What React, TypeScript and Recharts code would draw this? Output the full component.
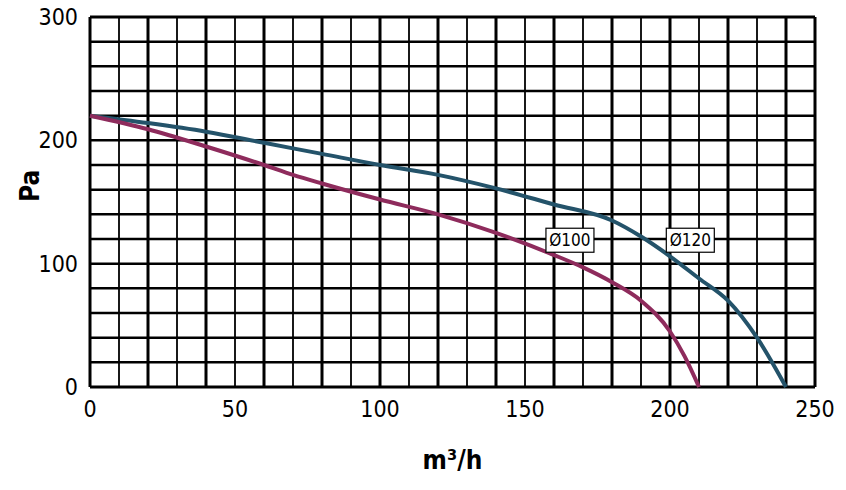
import React from 'react';
import { LineChart, Line, XAxis, YAxis, ReferenceLine, ReferenceDot } from 'recharts';

const d120 = [
  { x: 0, y: 220 }, { x: 20, y: 214 }, { x: 40, y: 207 }, { x: 60, y: 198 },
  { x: 80, y: 189 }, { x: 100, y: 180 }, { x: 120, y: 172 }, { x: 140, y: 161 },
  { x: 160, y: 148 }, { x: 180, y: 135 }, { x: 190, y: 122 }, { x: 200, y: 106 },
  { x: 210, y: 88 }, { x: 220, y: 70 }, { x: 230, y: 40 }, { x: 240, y: 0 },
];
const d100 = [
  { x: 0, y: 220 }, { x: 20, y: 209 }, { x: 40, y: 195 }, { x: 60, y: 180 },
  { x: 70, y: 172 }, { x: 80, y: 165 }, { x: 100, y: 152 }, { x: 120, y: 140 },
  { x: 140, y: 125 }, { x: 160, y: 107 }, { x: 170, y: 97 }, { x: 180, y: 85 },
  { x: 190, y: 70 }, { x: 200, y: 45 }, { x: 205, y: 25 }, { x: 210, y: 0 },
];
const xTicks = [0, 50, 100, 150, 200, 250];
const yTicks = [0, 100, 200, 300];
const gridX: number[] = [];
for (let v = 10; v < 250; v += 10) gridX.push(v);
const gridY: number[] = [];
for (let v = 20; v < 300; v += 20) gridY.push(v);

const font = '"DejaVu Sans Condensed", "Liberation Sans Narrow", sans-serif';

function Tag(props: any) {
  const { viewBox, value } = props;
  const cx = viewBox.x;
  const cy = viewBox.y;
  return (
    <g>
      <rect x={cx - 24} y={cy - 12} width={48} height={24} fill="#fff" stroke="#000" strokeWidth={1.2} />
      <text x={cx} y={cy + 6} textAnchor="middle" fontSize={17} fontFamily={font} fill="#000">{value}</text>
    </g>
  );
}

export default function App() {
  return (
    <div style={{ position: 'absolute', left: 0, top: 0, background: '#fff' }}>
      <LineChart width={846} height={490} margin={{ top: 17, right: 31, bottom: 43, left: 30 }}>
        <XAxis type="number" dataKey="x" domain={[0, 250]} ticks={xTicks} axisLine={false} tickLine={false}
          height={60} tick={{ fontSize: 23, fill: '#000', fontFamily: font }} tickMargin={8}
          label={{ value: 'm³/h', position: 'insideBottom', offset: -22, fontSize: 26, fontWeight: 'bold', fill: '#000', fontFamily: font }} />
        <YAxis type="number" domain={[0, 300]} ticks={yTicks} axisLine={false} tickLine={false} width={60}
          tick={{ fontSize: 23, fill: '#000', fontFamily: font }} tickMargin={6}
          label={{ value: 'Pa', angle: -90, position: 'insideLeft', offset: 0, fontSize: 26, fontWeight: 'bold', fill: '#000', fontFamily: font }} />
        {gridY.map((v) => (
          <ReferenceLine key={'h' + v} y={v} stroke="#000" strokeWidth={2.5} />
        ))}
        {gridX.map((v) => (
          <ReferenceLine key={'v' + v} x={v} stroke="#000" strokeWidth={v % 20 === 0 ? 3 : 1.8} />
        ))}
        <ReferenceLine x={0} stroke="#000" strokeWidth={3} />
        <ReferenceLine x={250} stroke="#000" strokeWidth={3} />
        <ReferenceLine y={0} stroke="#000" strokeWidth={3} />
        <ReferenceLine y={300} stroke="#000" strokeWidth={3} />
        <Line data={d120} dataKey="y" type="monotone" stroke="#24536a" strokeWidth={4} dot={false} isAnimationActive={false} />
        <Line data={d100} dataKey="y" type="monotone" stroke="#8e2b5c" strokeWidth={4} dot={false} isAnimationActive={false} />
        <ReferenceDot x={165.5} y={119} r={0} label={<Tag value="Ø100" />} />
        <ReferenceDot x={207} y={119} r={0} label={<Tag value="Ø120" />} />
      </LineChart>
    </div>
  );
}
